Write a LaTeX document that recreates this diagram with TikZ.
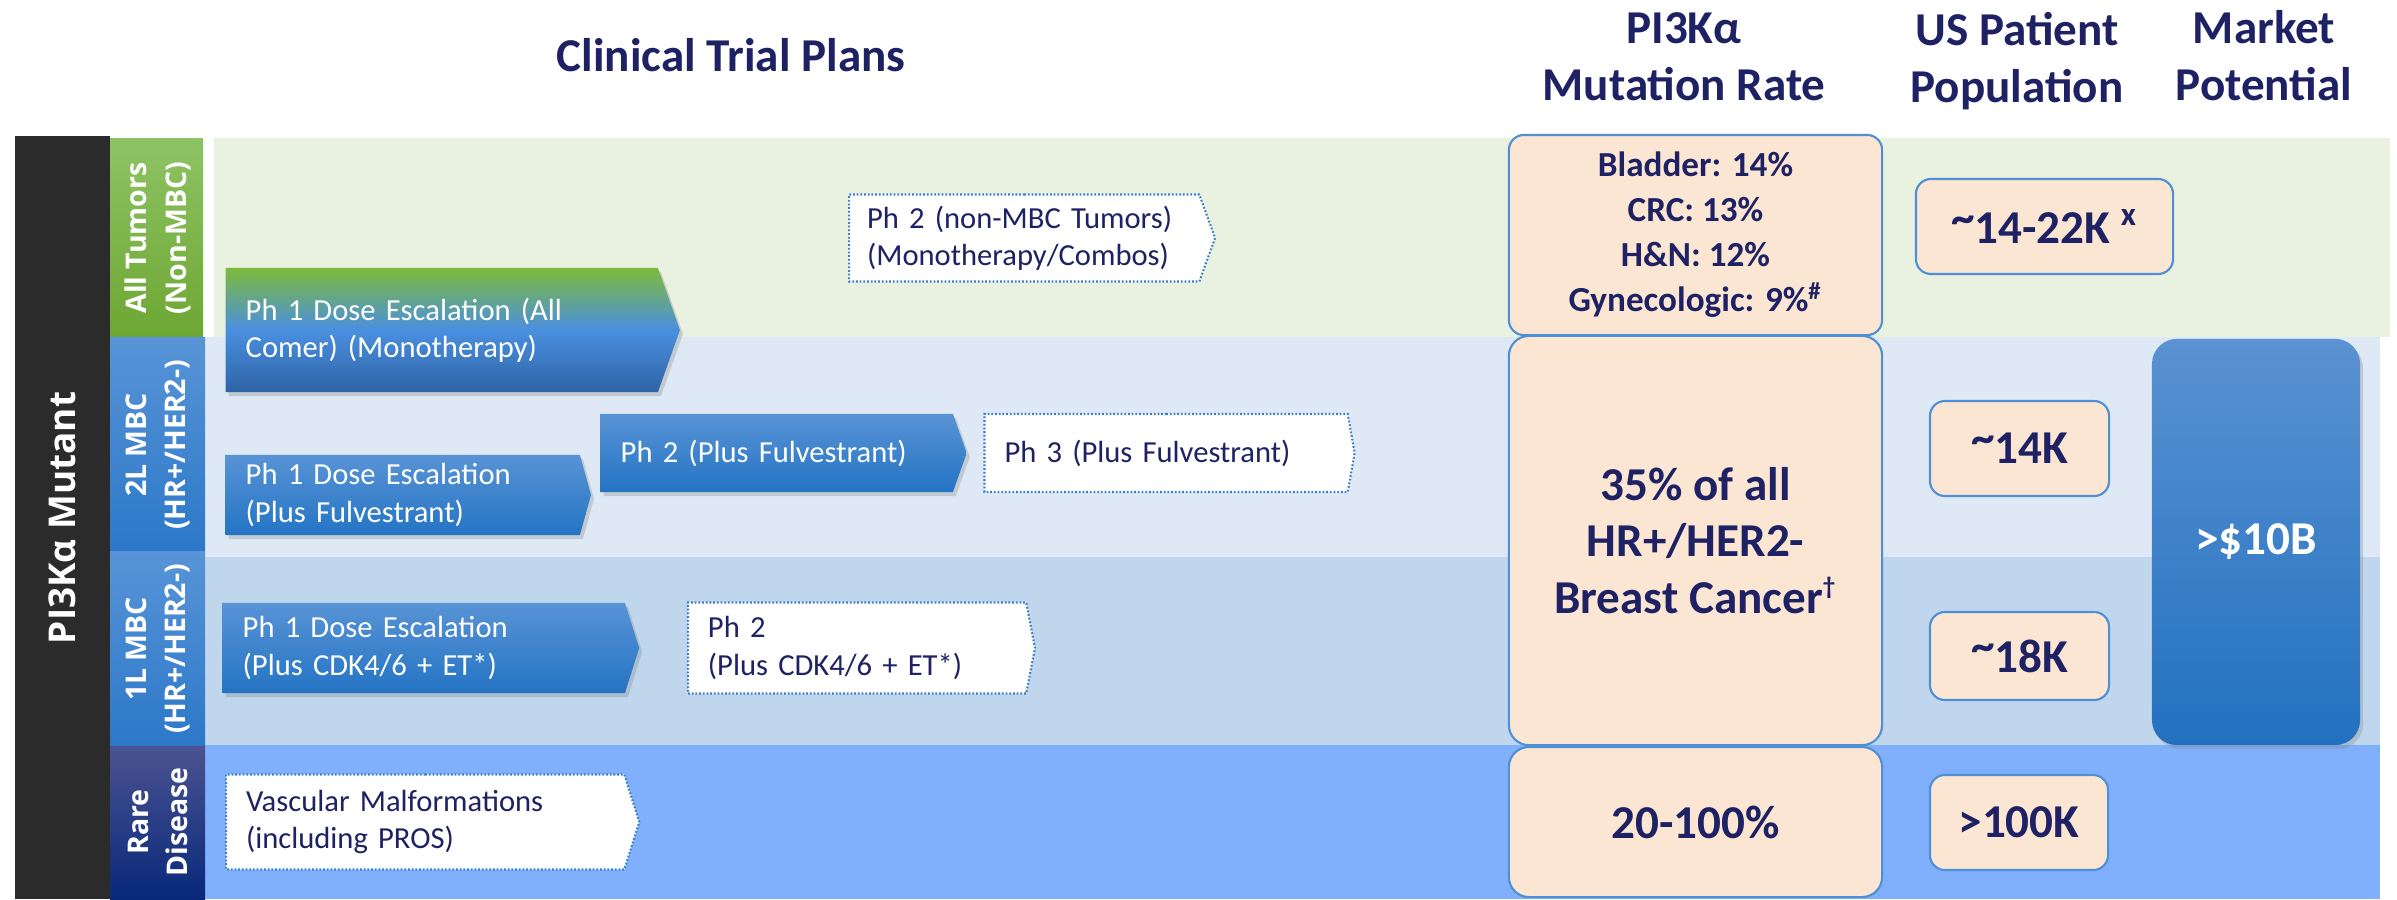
\documentclass[tikz,border=0pt]{standalone}
\usepackage{fontspec}
\setmainfont{Carlito}
\newfontfamily\sidefont{Open Sans}
\usepackage{tikz}
\usetikzlibrary{shapes, shapes.arrows, positioning, shadows}

\definecolor{navy}{HTML}{1E2163}
\definecolor{darkbar}{HTML}{2B2B2B}
\definecolor{bandgreen}{HTML}{E9F1E0}
\definecolor{bandpale}{HTML}{DEE9F5}
\definecolor{bandmid}{HTML}{BFD6EC}
\definecolor{bandrare}{HTML}{80B0FC}
\definecolor{labgreentop}{HTML}{8EC364}
\definecolor{labgreenbot}{HTML}{6DA733}
\definecolor{labbluetop}{HTML}{5894D7}
\definecolor{labbluebot}{HTML}{2C78C8}
\definecolor{labraretop}{HTML}{4B5391}
\definecolor{labrarebot}{HTML}{08287A}
\definecolor{peach}{HTML}{FAE6D2}
\definecolor{boxline}{HTML}{4F8FD3}
\definecolor{phtop}{HTML}{5893D5}
\definecolor{phbot}{HTML}{2474C4}
\definecolor{phgreen}{HTML}{7DBB3B}
\definecolor{phmid}{HTML}{4A8FE0}
\definecolor{phdark}{HTML}{2E64A4}
\definecolor{dotline}{HTML}{3A7FCC}
\definecolor{mkttop}{HTML}{5A92D2}
\definecolor{mktbot}{HTML}{2271C0}

\begin{document}
\begin{tikzpicture}[x=0.01cm,y=-0.01cm,node distance=5mm,font=\fontsize{8.7}{10.6}\selectfont]
    \tikzstyle{phase}=[signal,signal to=east,align=left,inner xsep=0.2cm,inner ysep=0pt,anchor=west]
    \tikzstyle{active}=[phase,top color=phtop,bottom color=phbot,text=white,drop shadow={opacity=0.3,shadow xshift=0.03cm,shadow yshift=-0.04cm}]
    \tikzstyle{planned}=[phase,fill=white,draw=dotline,line width=0.6pt,dash pattern=on 0.5pt off 0.55pt,text=navy]
    \tikzstyle{head}=[inner sep=0pt,align=center,text=navy,font=\bfseries\fontsize{13.4}{16.2}\selectfont]
    \tikzstyle{side}=[inner sep=0pt,align=center,text=white,rotate=90,font=\sidefont\bfseries\fontsize{8.1}{11.3}\selectfont]
    \tikzstyle{val}=[draw=boxline,fill=peach,line width=0.6pt,rounded corners=0.15cm,align=center,text=navy,font=\bfseries\fontsize{13.4}{16}\selectfont]

    \useasboundingbox (0,0) rectangle (2397,899);

    % rows
    \fill[bandgreen] (214,138) rectangle (2390,337);
    \fill[bandpale] (205,337) rectangle (2380,557);
    \fill[bandmid] (205,557) rectangle (2380,745);
    \fill[bandrare] (205,745) rectangle (2380,899);

    \fill[darkbar] (15,136) rectangle (110,899);
    \shade[top color=labgreentop,bottom color=labgreenbot] (110,138) rectangle (203,337);
    \shade[top color=labbluetop,bottom color=labbluebot] (110,337) rectangle (205,551);
    \shade[top color=labbluetop,bottom color=labbluebot] (110,551) rectangle (205,746);
    \shade[top color=labraretop,bottom color=labrarebot] (110,746) rectangle (205,899);

    \node[side,font=\sidefont\bfseries\fontsize{10.5}{12}\selectfont] (mutant) at (62,518) {PI3Kα Mutant};
    \node[side] (lab1) at (158,238) {All Tumors\\(Non-MBC)};
    \node[side] (lab2) at (158,445) {2L MBC\\(HR+/HER2-)};
    \node[side] (lab3) at (158,649) {1L MBC\\(HR+/HER2-)};
    \node[side] (lab4) at (158,822) {Rare\\Disease};

    \node[head] (hplans) at (731,55) {Clinical Trial Plans};
    \node[head] (hrate) at (1684,57) {PI3Kα\\Mutation Rate};
    \node[head] (hpop) at (2017,61) {US Patient\\Population};
    \node[head] (hmkt) at (2264,56) {Market\\Potential};

    \node[active,top color=phgreen,bottom color=phdark,middle color=phmid,text width=3.92cm,minimum height=1.24cm,signal pointer angle=141] (p1all) at (225,330) {Ph 1 Dose Escalation (All\\Comer) (Monotherapy)};
    \node[planned,text width=3.14cm,inner xsep=0.18cm,minimum height=0.87cm,signal pointer angle=140] (p2all) at (848,238) {Ph 2 (non-MBC Tumors)\\(Monotherapy/Combos)};

    \node[active,text width=3.14cm,minimum height=0.80cm,signal pointer angle=149] (p1fulv) at (225,495) {Ph 1 Dose Escalation\\(Plus Fulvestrant)};
    \node[active,text width=3.12cm,minimum height=0.78cm,signal pointer angle=141] (p2fulv) at (600,453) {Ph 2 (Plus Fulvestrant)};
    \node[planned,text width=3.23cm,minimum height=0.78cm,signal pointer angle=160,right=0.16cm of p2fulv] (p3fulv) {Ph 3 (Plus Fulvestrant)};

    \node[active,text width=3.62cm,minimum height=0.90cm,signal pointer angle=145] (p1cdk) at (222,648) {Ph 1 Dose Escalation\\(Plus CDK4/6 + ET*)};
    \node[planned,text width=2.98cm,minimum height=0.91cm,signal pointer angle=158,right=0.47cm of p1cdk] (p2cdk) {Ph 2\\(Plus CDK4/6 + ET*)};

    \node[planned,text width=3.58cm,minimum height=0.95cm,signal pointer angle=145] (vasc) at (225,822) {Vascular Malformations\\(including PROS)};

    \node[val,minimum width=3.73cm,minimum height=2.0cm,font=\bfseries\fontsize{10}{12.8}\selectfont] (rate1) at (1695.5,235) {Bladder: 14\%\\CRC: 13\%\\H\&N: 12\%\\Gynecologic: 9\%\textsuperscript{\#}};
    \node[val,minimum width=3.73cm,minimum height=4.09cm,rounded corners=0.2cm] (rate2) at (1695.5,540.5) {35\% of all\\HR+/HER2-\\Breast Cancer\textsuperscript{\fontsize{7}{7}\selectfont\textdagger}};
    \node[val,minimum width=3.73cm,minimum height=1.50cm,rounded corners=0.2cm] (rate3) at (1695.5,822) {20-100\%};

    \node[val,minimum width=2.57cm,minimum height=0.95cm] (pop1) at (2044.5,226.5) {\raisebox{0.22em}{\textasciitilde}14-22K \textsuperscript{x}};
    \node[val,minimum width=1.79cm,minimum height=0.95cm] (pop2) at (2019.5,448.5) {\raisebox{0.22em}{\textasciitilde}14K};
    \node[val,minimum width=1.79cm,minimum height=0.88cm] (pop3) at (2019.5,656) {\raisebox{0.22em}{\textasciitilde}18K};
    \node[val,minimum width=1.78cm,minimum height=0.95cm] (pop4) at (2019,822.5) {>100K};

    \node[minimum width=2.08cm,minimum height=4.06cm,rounded corners=0.25cm,top color=mkttop,bottom color=mktbot,text=white,font=\bfseries\fontsize{13.4}{16}\selectfont,drop shadow={opacity=0.3,shadow xshift=0.03cm,shadow yshift=-0.04cm}] (mkt) at (2256,542) {>\$10B};
\end{tikzpicture}
\end{document}
